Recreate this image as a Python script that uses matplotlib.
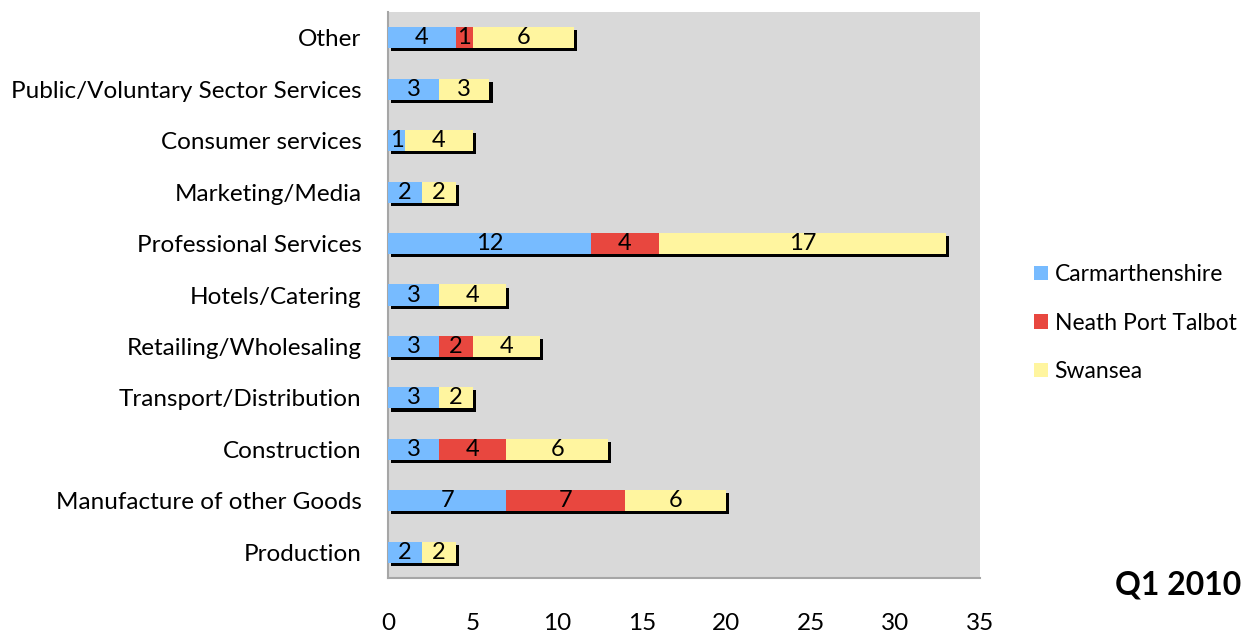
import matplotlib
matplotlib.use("Agg")
import matplotlib.pyplot as plt
import matplotlib.patheffects as pe
from matplotlib.patches import Patch
import numpy as np

plt.rcParams['font.family'] = ['Lato', 'DejaVu Sans']

# --- data (top to bottom as shown) ---
categories = ["Other", "Public/Voluntary Sector Services", "Consumer services",
              "Marketing/Media", "Professional Services", "Hotels/Catering",
              "Retailing/Wholesaling", "Transport/Distribution", "Construction",
              "Manufacture of other Goods", "Production"]
carmarthenshire = [4, 3, 1, 2, 12, 3, 3, 3, 3, 7, 2]
neath_port_talbot = [1, 0, 0, 0, 4, 0, 2, 0, 4, 7, 0]
swansea = [6, 3, 4, 2, 17, 4, 4, 2, 6, 6, 2]
series_names = ["Carmarthenshire", "Neath Port Talbot", "Swansea"]
colours = ["#77BBFF", "#E8473F", "#FFF59F"]
x_ticks = [0, 5, 10, 15, 20, 25, 30, 35]

fig = plt.figure(figsize=(12.49, 6.33), dpi=100)
ax = fig.add_axes([388 / 1249, 1 - 578 / 633, (980 - 388) / 1249, (578 - 12) / 633])
ax.set_facecolor("#D9D9D9")

y = np.arange(len(categories))[::-1]
left = np.zeros(len(categories))
shadow = [pe.SimplePatchShadow(offset=(2.2, -2.2), shadow_rgbFace="black", alpha=1.0), pe.Normal()]

for name, vals, col in zip(series_names, [carmarthenshire, neath_port_talbot, swansea], colours):
    vals = np.array(vals, dtype=float)
    bars = ax.barh(y, vals, left=left, height=0.41, color=col, zorder=3)
    for b, v in zip(bars, vals):
        if v > 0:
            b.set_path_effects(shadow)
            ax.text(b.get_x() + v / 2, b.get_y() + b.get_height() / 2, f"{int(v)}",
                    ha="center", va="center", fontsize=17, color="black", zorder=5)
    left += vals

ax.set_xlim(0, 35)
ax.set_ylim(-0.5, len(categories) - 0.5)
ax.set_xticks(x_ticks)
ax.set_xticklabels([str(t) for t in x_ticks])
ax.set_yticks(y)
ax.set_yticklabels(categories)
ax.tick_params(axis="both", length=0, labelsize=17.5)
ax.tick_params(axis="x", pad=25)
ax.tick_params(axis="y", pad=19)
for s in ["top", "right"]:
    ax.spines[s].set_visible(False)
for s in ["left", "bottom"]:
    ax.spines[s].set_color("#A6A6A6")
    ax.spines[s].set_linewidth(1.5)

handles = [Patch(facecolor=c, edgecolor="none") for c in colours]
fig.legend(handles, series_names, loc="center left", bbox_to_anchor=(1034 / 1249, 1 - 323 / 633),
           frameon=False, fontsize=16.5, handlelength=0.6, handleheight=0.6, handletextpad=0.3,
           labelspacing=1.2, borderpad=0, borderaxespad=0)

fig.text(1241 / 1249, 1 - 585 / 633, "Q1 2010", ha="right", va="center",
         fontsize=23, fontweight="bold")

fig.savefig("out.png", dpi=100)
